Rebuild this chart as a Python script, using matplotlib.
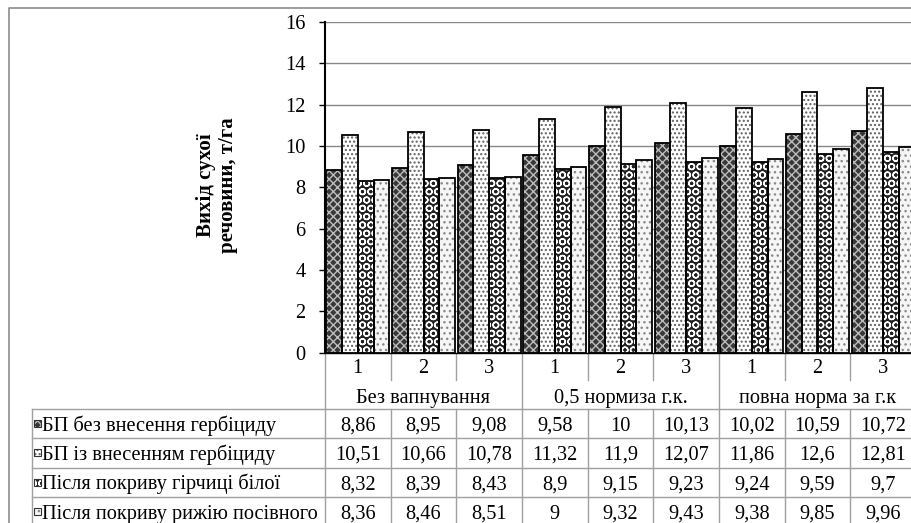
import numpy as np
import matplotlib.pyplot as plt
from matplotlib.patches import Rectangle
from matplotlib.transforms import blended_transform_factory

plt.rcParams['font.family'] = ['Liberation Serif', 'DejaVu Serif']
plt.rcParams['hatch.linewidth'] = 1.0

# yield of dry matter, t/ha
series = ['БП без внесення гербіциду', 'БП із внесенням гербіциду',
          'Після покриву гірчиці білої', 'Після покриву рижію посівного']
groups = ['Без вапнування', '0,5 нормиза г.к.', 'повна норма за г.к']
cats = ['1', '2', '3', '1', '2', '3', '1', '2', '3']
bp_no_herb = [8.86, 8.95, 9.08, 9.58, 10, 10.13, 10.02, 10.59, 10.72]
bp_herb = [10.51, 10.66, 10.78, 11.32, 11.9, 12.07, 11.86, 12.6, 12.81]
mustard = [8.32, 8.39, 8.43, 8.9, 9.15, 9.23, 9.24, 9.59, 9.7]
camelina = [8.36, 8.46, 8.51, 9, 9.32, 9.43, 9.38, 9.85, 9.96]
values = [bp_no_herb, bp_herb, mustard, camelina]

# fill, hatch, hatch colour per series
styles = [('#383838', 'xxxx', '#bdbdbd'),
          ('white', '....', '#606060'),
          ('#222222', 'OO', 'white'),
          ('#f6f6f6', '...', '#8a8a8a')]

FS = 14.7
W, H = 911, 523
fig = plt.figure(figsize=(W / 100, H / 100), dpi=100)


def box(l, t, r, b):
    return [l / W, 1 - b / H, (r - l) / W, (b - t) / H]


# pixel overlay for frame, table and labels
ov = fig.add_axes([0, 0, 1, 1], zorder=0)
ov.set_xlim(0, W)
ov.set_ylim(H, 0)
ov.axis('off')

ax = fig.add_axes(box(325, 22, 916, 352.7), zorder=1)
n = len(cats)
x = np.arange(n) + 0.5
bw = 0.24
for k, vals in enumerate(values):
    face, hatch, hcol = styles[k]
    pos = x + (k - 1.5) * bw
    ax.bar(pos, vals, bw, color=face, hatch=hatch, edgecolor=hcol, linewidth=0, zorder=2)
    ax.bar(pos, vals, bw, fill=False, edgecolor='black', linewidth=1.3, zorder=3)

ax.set_xlim(0, n)
ax.set_ylim(0, 16)
ax.set_yticks(range(0, 17, 2))
ax.set_xticks([])
ax.grid(axis='y', color='#878787', linewidth=1)
ax.set_axisbelow(True)
for s in ['top', 'right']:
    ax.spines[s].set_visible(False)
ax.spines['left'].set_linewidth(1.5)
ax.spines['bottom'].set_linewidth(1)
ax.tick_params(axis='y', direction='out', length=4, width=1, pad=10, labelsize=FS)

ov.text(217, 185, 'Вихід сухої\nречовини, т/га', rotation=90, ha='center', va='center',
        fontsize=15, fontweight='bold', multialignment='center')

# outer chart frame
ov.plot([9, 9, W + 5], [H + 5, 8, 8], color='#8c8c8c', lw=1.2, clip_on=False)

tr = blended_transform_factory(ax.transData, ov.transData)
grey = '#a0a0a0'
top, cat_b, grp_b = 352.7, 380, 409
row_h = 29.3

# category and group rows under the axis
for i in range(n + 1):
    bottom = grp_b if i % 3 == 0 else cat_b
    ov.plot([i, i], [top, bottom], color=grey, lw=1, transform=tr, clip_on=False)
for i in range(n):
    ov.text(x[i], 373, cats[i], transform=tr, ha='center', va='baseline', fontsize=FS)
for g, name in enumerate(groups):
    ov.text(3 * g + 1.5, 402.5, name, transform=tr, ha='center', va='baseline', fontsize=FS)

# data table with legend keys
rows_top = grp_b
ys = [rows_top + r * row_h for r in range(len(series) + 1)]
for y in ys:
    ov.plot([32, W + 5], [y, y], color=grey, lw=1, clip_on=False)
ov.plot([32, 32], [rows_top, H + 5], color=grey, lw=1, clip_on=False)
for i in range(n + 1):
    ov.plot([i, i], [rows_top, H + 5], color=grey, lw=1, transform=tr, clip_on=False)

for r, (name, vals) in enumerate(zip(series, values)):
    yc = ys[r] + row_h / 2
    base = yc + 7
    face, hatch, hcol = styles[r]
    ov.add_patch(Rectangle((34, yc - 3.5), 7, 7, facecolor=face, hatch=hatch, edgecolor=hcol, lw=0))
    ov.add_patch(Rectangle((34, yc - 3.5), 7, 7, fill=False, edgecolor='#333333', lw=0.8))
    ov.text(42, base, name, ha='left', va='baseline', fontsize=FS)
    for i, v in enumerate(vals):
        ov.text(x[i], base, f'{v:g}'.replace('.', ','), transform=tr,
                ha='center', va='baseline', fontsize=FS)

fig.savefig('out.png', dpi=100)
